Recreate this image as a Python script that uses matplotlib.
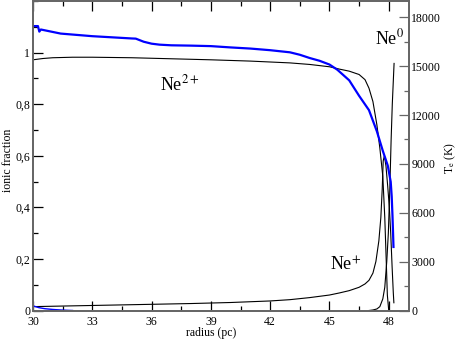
import numpy as np
import matplotlib
matplotlib.use("Agg")
import matplotlib.pyplot as plt
from matplotlib.ticker import MultipleLocator, FixedLocator, FuncFormatter

plt.rcParams['font.family'] = ['Liberation Serif', 'DejaVu Serif']
plt.rcParams['mathtext.fontset'] = 'stix'

# Ne2+ ionic fraction
x_ne2 = [30, 30.5, 31, 32, 33, 35, 37, 39, 41, 43, 43.5, 44, 45, 45.5, 46, 46.5, 46.8, 47.0,
         47.2, 47.4, 47.55, 47.7, 47.8, 47.87, 47.93, 48.0]
y_ne2 = [0.972, 0.977, 0.980, 0.982, 0.982, 0.980, 0.976, 0.972, 0.967, 0.960, 0.957, 0.954,
         0.945, 0.936, 0.928, 0.915, 0.895, 0.862, 0.81, 0.72, 0.63, 0.52, 0.36, 0.2, 0.06, 0.0]

# Ne+ ionic fraction
x_ne1 = [30, 32, 34, 36, 38, 40, 42, 43, 44, 45, 45.5, 46, 46.5, 46.8, 47.0, 47.2, 47.35,
         47.5, 47.6, 47.67, 47.72, 47.78, 47.86, 47.95, 48.03, 48.1, 48.17, 48.23, 48.26]
y_ne1 = [0.015, 0.018, 0.021, 0.024, 0.027, 0.031, 0.037, 0.042, 0.050, 0.060, 0.068, 0.077,
         0.090, 0.103, 0.117, 0.145, 0.19, 0.27, 0.36, 0.47, 0.58, 0.60, 0.56, 0.48, 0.40,
         0.30, 0.17, 0.07, 0.03]

# Ne0 ionic fraction
x_ne0 = [47.0, 47.2, 47.4, 47.55, 47.7, 47.8, 47.9, 47.98, 48.05, 48.12, 48.18, 48.27]
y_ne0 = [0.0, 0.002, 0.006, 0.015, 0.045, 0.09, 0.19, 0.3, 0.46, 0.66, 0.80, 0.958]

# small blue ionic fraction near origin
x_ne3 = [30, 30.3, 30.6, 31.0, 31.4, 31.8, 32.0]
y_ne3 = [0.018, 0.011, 0.007, 0.004, 0.002, 0.0005, 0.0]

# Electron temperature
x_te = [30, 30.25, 30.32, 30.4, 30.6, 31, 31.4, 32, 33, 34, 35, 35.2, 35.6, 36, 36.4, 37, 38,
        39, 40, 41, 42, 43, 43.5, 44, 44.5, 45, 45.4, 46, 46.5, 47.0, 47.4, 47.7, 47.95,
        48.1, 48.15, 48.19, 48.22, 48.24]
y_te = [17460, 17460, 17120, 17250, 17200, 17100, 17000, 16940, 16840, 16770, 16700, 16690,
        16500, 16380, 16320, 16280, 16260, 16230, 16150, 16080, 15980, 15850, 15700, 15500,
        15330, 15100, 14780, 14130, 13180, 12300, 11000, 9800, 8900, 7900, 7000, 5800, 4700,
        3900]

xticks = [30, 33, 36, 39, 42, 45, 48]
lticks = [0, 0.2, 0.4, 0.6, 0.8, 1.0]
rticks = [0, 3000, 6000, 9000, 12000, 15000, 18000]

fig = plt.figure(figsize=(4.63, 3.40), dpi=100)
ax = fig.add_axes([33/463, 29.5/340, 375.5/463, 309.5/340])
ax2 = ax.twinx()

ax.plot(x_ne2, y_ne2, color='black', lw=0.8)
ax.plot(x_ne1, y_ne1, color='black', lw=0.8)
ax.plot(x_ne0, y_ne0, color='black', lw=0.8)
ax.plot(x_ne3, y_ne3, color='#0000ff', lw=1.0)
ax2.plot(x_te, y_te, color='#0000ff', lw=1.6)

ax.set_xlim(30, 49)
ax.set_ylim(0, 1.2)
ax2.set_ylim(0, 19000)

ax.xaxis.set_major_locator(FixedLocator(xticks))
ax.xaxis.set_minor_locator(MultipleLocator(1.5))
ax.yaxis.set_major_locator(FixedLocator(lticks))
ax.yaxis.set_minor_locator(MultipleLocator(0.1))
ax.yaxis.set_major_formatter(FuncFormatter(lambda v, p: ('%g' % v).replace('.', ',')))
ax2.yaxis.set_major_locator(FixedLocator(rticks))
ax2.yaxis.set_minor_locator(MultipleLocator(1500))

ax.tick_params(which='both', direction='in', top=True, right=False, labelsize=8.5,
               colors='black')
ax.tick_params(axis='y', pad=2)
ax.tick_params(axis='x', pad=4)
ax.tick_params(which='major', length=7, width=0.9)
ax.tick_params(which='minor', length=3.5, width=0.9)
ax2.tick_params(which='both', direction='in', labelsize=8.5, pad=2)
ax2.tick_params(which='major', length=7, width=0.9, color='#666666')
ax2.tick_params(which='minor', length=3.5, width=0.9, color='#666666')

for a in (ax, ax2):
    for s in a.spines.values():
        s.set_color('#666666')
        s.set_linewidth(1.3)

fig.text(211/463, 1 - 333/340, 'radius (pc)', fontsize=8.5, ha='center', va='center')
fig.text(8/463, 1 - 160/340, 'ionic fraction', fontsize=8.5, ha='center', va='center',
         rotation=90)
fig.text(450/463, 1 - 158/340, r'T$_\mathrm{e}$ (K)', fontsize=8.5, ha='center',
         va='center', rotation=90)

ax.text(36.45, 0.875, r'Ne$^{2+}$', fontsize=13, va='center', ha='left')
ax.text(45.05, 0.175, r'Ne$^{+}$', fontsize=13, va='center', ha='left')
ax.text(47.3, 1.055, r'Ne$^{0}$', fontsize=13, va='center', ha='left')

fig.savefig('out.png', dpi=100)
